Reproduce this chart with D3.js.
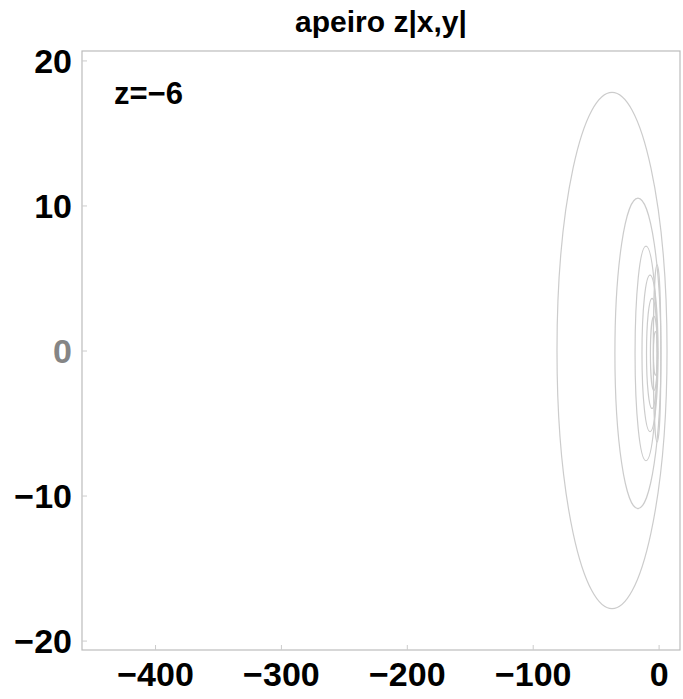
<!DOCTYPE html>
<html>
<head>
<meta charset="utf-8">
<script src="https://cdn.jsdelivr.net/npm/d3@7"></script>
<style>
  html, body { margin: 0; padding: 0; background: #fff; }
  svg { display: block; }
  text { font-family: "Liberation Sans", Arial, Helvetica, sans-serif; font-weight: bold; }
</style>
</head>
<body>
<svg id="chart" width="683" height="699"></svg>
<script>
// Axis ticks
const xTicks = [-400, -300, -200, -100, 0];
const yTicks = [20, 10, 0, -10, -20];

// Level curves of z[x,y] at z = -6 (centre and half-widths, in plot units)
const contourCx = [-37, -16.4, -10, -6.8, -5.2, -3.7, -2.5, -1.2];
const contourCy = [0, -0.2, -0.2, -0.2, -0.2, -0.2, -0.2, -0.2];
const contourRx = [43.7, 18.3, 8.7, 6.4, 4.4, 2.8, 1.6, 3.0];
const contourRy = [17.8, 10.7, 7.4, 5.4, 3.8, 2.55, 1.5, 6.1];

const titleText = "apeiro z|x,y|";
const levelLabel = "z=\u22126";

const svg = d3.select("#chart");

const x = d3.scaleLinear().domain([-458, 17]).range([82, 680]);
const y = d3.scaleLinear().domain([-20.65, 20.65]).range([650, 51]);

const fmt = v => (v < 0 ? "\u2212" + Math.abs(v) : String(v));

// plot frame
svg.append("rect")
  .attr("x", x.range()[0]).attr("y", y.range()[1])
  .attr("width", x.range()[1] - x.range()[0])
  .attr("height", y.range()[0] - y.range()[1])
  .attr("fill", "none").attr("stroke", "#bcbcbc").attr("stroke-width", 1.2);

// contour curves
const curves = contourCx.map((cx, i) => ({ cx, cy: contourCy[i], rx: contourRx[i], ry: contourRy[i] }));
svg.append("g").selectAll("ellipse").data(curves).join("ellipse")
  .attr("cx", d => x(d.cx))
  .attr("cy", d => y(d.cy))
  .attr("rx", d => x(d.cx + d.rx) - x(d.cx))
  .attr("ry", d => y(d.cy) - y(d.cy + d.ry))
  .attr("fill", "none")
  .attr("stroke", "#cccccc")
  .attr("stroke-width", 1.2);

// bottom axis
const xAxis = svg.append("g").attr("transform", `translate(0,${y.range()[0]})`)
  .call(d3.axisBottom(x).tickValues(xTicks).tickFormat(fmt).tickSizeInner(-5).tickSizeOuter(0).tickPadding(12));
xAxis.select(".domain").remove();
xAxis.selectAll("line").attr("stroke", "#cccccc");
xAxis.selectAll("text").attr("font-size", 34).attr("fill", "#000")
  .attr("font-family", "'Liberation Sans Narrow', 'Liberation Sans', Arial, sans-serif");

// left axis
const yAxis = svg.append("g").attr("transform", `translate(${x.range()[0]},0)`)
  .call(d3.axisLeft(y).tickValues(yTicks).tickFormat(fmt).tickSizeInner(-5).tickSizeOuter(0).tickPadding(10));
yAxis.select(".domain").remove();
yAxis.selectAll("line").attr("stroke", "#cccccc");
yAxis.selectAll("text").attr("font-size", 34).attr("dy", "0.36em")
  .attr("font-family", "'Liberation Sans Narrow', 'Liberation Sans', Arial, sans-serif")
  .attr("fill", d => d === 0 ? "#858585" : "#000");

// title
svg.append("text")
  .attr("x", (x.range()[0] + x.range()[1]) / 2).attr("y", 32)
  .attr("text-anchor", "middle").attr("font-size", 30).attr("fill", "#000")
  .text(titleText);

// level label
svg.append("text")
  .attr("x", 114).attr("y", 104)
  .attr("font-size", 31).attr("fill", "#000")
  .text(levelLabel);
</script>
</body>
</html>
